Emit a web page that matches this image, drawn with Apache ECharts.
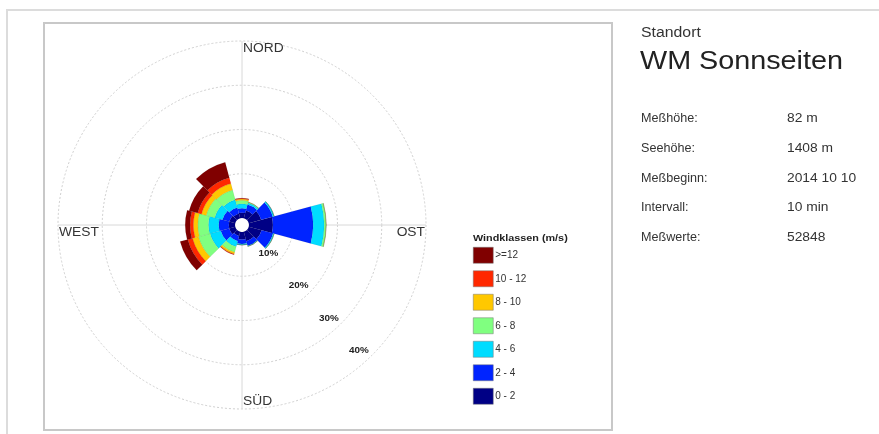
<!DOCTYPE html>
<html>
<head>
<meta charset="utf-8">
<style>
html,body{margin:0;padding:0;background:#fff;}
#chart{width:879px;height:434px;}
</style>
<script src="https://cdn.jsdelivr.net/npm/echarts@6/dist/echarts.min.js"></script>
</head>
<body>
<div id="chart"></div>
<script>
// Directions (12 sectors of 30°, clockwise from north)
const directions = ['0°','30°','60°','90°','120°','150°','180°','210°','240°','270°','300°','330°'];
// Wind speed classes (m/s)
const classes = ['0 - 2','2 - 4','4 - 6','6 - 8','8 - 10','10 - 12','>=12'];
const classColors = ['#000085','#0024ff','#00dcff','#80ff80','#ffc800','#ff2800','#800000'];
// Frequencies in % per direction for each class
const v0_2   = [1.2, 1.8, 2.9, 5.4, 3.0, 2.2, 1.7, 1.0, 1.4, 1.4, 1.4, 1.1];
const v2_4   = [1.0, 1.4, 2.7, 9.1, 2.7, 1.1, 1.0, 1.2, 2.0, 2.3, 1.6, 1.4];
const v4_6   = [1.0, 0.4, 0.3, 2.5, 0.2, 0.1, 0.2, 1.3, 2.5, 2.3, 1.8, 1.8];
const v6_8   = [0.8, 0.15, 0.05, 0.4, 0.05, 0.05, 0.05, 1.3, 2.7, 2.4, 2.0, 2.3];
const v8_10  = [0.3, 0.05, 0, 0.05, 0, 0, 0, 0.4, 1.4, 1.0, 1.1, 1.5];
const v10_12 = [0.15, 0, 0, 0, 0, 0, 0, 0.15, 1.1, 0.75, 0.9, 1.4];
const v12    = [0.05, 0, 0, 0, 0, 0, 0, 0.05, 1.8, 1.1, 2.0, 3.6];
const classValues = [v0_2, v2_4, v4_6, v6_8, v8_10, v10_12, v12];
// Radial ticks
const radialTicks = [10, 20, 30, 40];
const radialTickLabels = ['10%', '20%', '30%', '40%'];
const compassLabels = ['NORD', 'OST', 'SÜD', 'WEST'];
// Info panel
const infoTitleSmall = 'Standort';
const infoTitle = 'WM Sonnseiten';
const infoKeys = ['Meßhöhe:', 'Seehöhe:', 'Meßbeginn:', 'Intervall:', 'Meßwerte:'];
const infoValues = ['82 m', '1408 m', '2014 10 10', '10 min', '52848'];
const legendTitle = 'Windklassen (m/s)';

const CX = 242, CY = 225, R0 = 7, R = 184, RMAX = 40;
const FONT = 'Liberation Sans, Arial, sans-serif';

const chart = echarts.init(document.getElementById('chart'), null, {renderer: 'canvas'});

function rOf(v) { return R0 + v / RMAX * (R - R0); }

const graphics = [];
// frames
graphics.push({type: 'rect', z: -10, shape: {x: 7, y: 10, width: 900, height: 460}, style: {fill: 'none', stroke: '#dcdcdc', lineWidth: 2}});
graphics.push({type: 'rect', z: -10, shape: {x: 44, y: 23, width: 568, height: 407}, style: {fill: 'none', stroke: '#c8c8c8', lineWidth: 2}});

// compass labels
const cposs = [
  {x: CX + 1, y: CY - R + 8, align: 'left'},
  {x: CX + R - 1, y: CY + 8, align: 'right'},
  {x: CX + 1, y: CY + R - 7, align: 'left'},
  {x: CX - R + 1, y: CY + 8, align: 'left'}
];
compassLabels.forEach((t, i) => {
  const p = cposs[i];
  graphics.push({type: 'text', x: p.x, y: p.y, scaleX: 1.15, z: 10,
    style: {text: t, x: 0, y: 0, fill: '#333', font: '12px ' + FONT, textAlign: p.align, textVerticalAlign: 'middle'}});
});

// radial tick labels along 137° compass direction
const ang = 137 * Math.PI / 180;
radialTicks.forEach((v, i) => {
  const d = rOf(v) - 12.5;
  graphics.push({type: 'text', x: CX + d * Math.sin(ang), y: CY - d * Math.cos(ang), scaleX: 1.1, z: 10,
    style: {text: radialTickLabels[i], x: 0, y: 0, fill: '#222', font: 'bold 9px ' + FONT, textAlign: 'center', textVerticalAlign: 'middle'}});
});

// legend title
graphics.push({type: 'text', x: 473, y: 239, scaleX: 1.2, z: 10,
  style: {text: legendTitle, x: 0, y: 0, fill: '#222', font: 'bold 9px ' + FONT, textAlign: 'left', textVerticalAlign: 'middle'}});

// info panel
graphics.push({type: 'text', x: 641, y: 33, scaleX: 1.13, style: {text: infoTitleSmall, x: 0, y: 0, fill: '#333', font: '14px ' + FONT, textAlign: 'left', textVerticalAlign: 'middle'}});
graphics.push({type: 'text', x: 640, y: 62, scaleX: 1.15, style: {text: infoTitle, x: 0, y: 0, fill: '#222', font: '25px ' + FONT, textAlign: 'left', textVerticalAlign: 'middle'}});
infoKeys.forEach((k, i) => {
  const y = 119 + i * 29.7;
  graphics.push({type: 'text', x: 641, y: y, scaleX: 1.05, style: {text: k, x: 0, y: 0, fill: '#333', font: '12px ' + FONT, textAlign: 'left', textVerticalAlign: 'middle'}});
  graphics.push({type: 'text', x: 787, y: y, scaleX: 1.15, style: {text: infoValues[i], x: 0, y: 0, fill: '#333', font: '12px ' + FONT, textAlign: 'left', textVerticalAlign: 'middle'}});
});

const series = classes.map((c, i) => ({
  name: c,
  type: 'bar',
  coordinateSystem: 'polar',
  polarIndex: 0,
  stack: 'wind',
  data: classValues[i],
  barCategoryGap: '0%',
  itemStyle: {color: classColors[i], borderColor: 'rgba(0,0,0,0.12)', borderWidth: 0.5},
  emphasis: {disabled: true},
  animation: false
}));

const option = {
  backgroundColor: '#fff',
  animation: false,
  graphic: graphics,
  polar: [
    {center: [CX, CY], radius: [R0, R]},
    {center: [CX, CY], radius: [R0, R]},
    {center: [CX, CY], radius: [rOf(10), R]}
  ],
  angleAxis: [
    {polarIndex: 0, type: 'category', data: directions, startAngle: 105, clockwise: true,
     axisLine: {show: false}, axisTick: {show: false}, axisLabel: {show: false}, splitLine: {show: false}},
    {polarIndex: 1, type: 'value', min: 0, max: 360, interval: 90, startAngle: 90, clockwise: true,
     axisLine: {show: false}, axisTick: {show: false}, axisLabel: {show: false},
     splitLine: {show: true, lineStyle: {color: '#d8d8d8', width: 1}}},
    {polarIndex: 2, type: 'value', min: 0, max: 360, startAngle: 90,
     axisLine: {show: false}, axisTick: {show: false}, axisLabel: {show: false}, splitLine: {show: false}}
  ],
  radiusAxis: [
    {polarIndex: 0, type: 'value', min: 0, max: RMAX, interval: 10,
     axisLine: {show: false}, axisTick: {show: false}, axisLabel: {show: false}, splitLine: {show: false}},
    {polarIndex: 1, type: 'value', min: 0, max: 1,
     axisLine: {show: false}, axisTick: {show: false}, axisLabel: {show: false}, splitLine: {show: false}},
    {polarIndex: 2, type: 'value', min: 10, max: RMAX, interval: 10,
     axisLine: {show: false}, axisTick: {show: false}, axisLabel: {show: false},
     splitLine: {show: true, lineStyle: {color: '#d0d0d0', width: 1, type: [2, 2]}}}
  ],
  legend: {
    orient: 'vertical', left: 473, top: 247, padding: 0,
    itemWidth: 20, itemHeight: 16, itemGap: 7, icon: 'rect', selectedMode: false,
    data: classes.slice().reverse(),
    itemStyle: {borderColor: '#777', borderWidth: 0.5},
    textStyle: {fontSize: 10, color: '#333', fontFamily: FONT, padding: [0, 0, 0, -3]}
  },
  series: series
};
chart.setOption(option);
</script>
</body>
</html>
